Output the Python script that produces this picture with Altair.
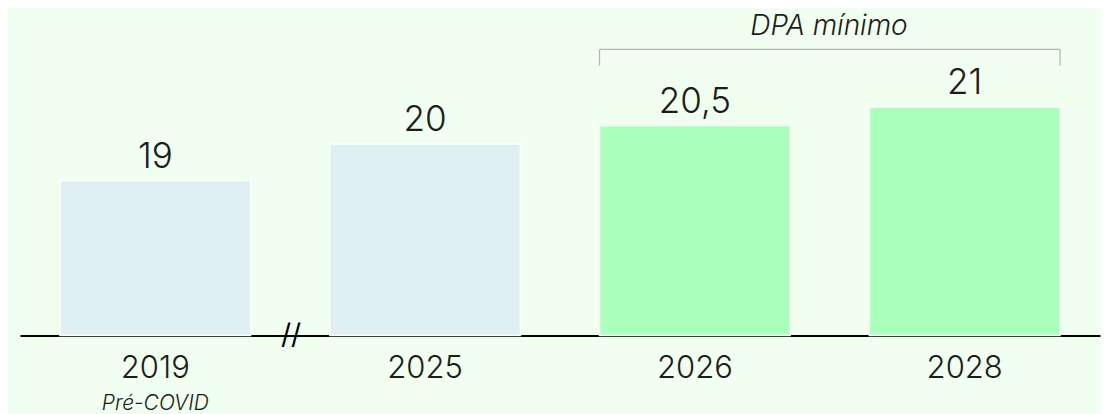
import altair as alt
import pandas as pd

years = ["2019", "2025", "2026", "2028"]
values = [19, 20, 20.5, 21]
value_labels = ["19", "20", "20,5", "21"]
groups = ["past", "past", "target", "target"]
sublabels = ["Pré-COVID", "", "", ""]
bracket_title = "DPA mínimo"
bracket_start = "2026"
bracket_end = "2028"

BG = "#f0fff0"
BLUE = "#dff0f3"
GREEN = "#aaffbb"
TXT = "#1c1c1c"
FONT = "Inter"
WEIGHT = 300

Y_MIN = 14.8
Y_MAX = 23.69
W = 1080
H = 327.5

df = pd.DataFrame({"year": years, "value": values, "label": value_labels,
                   "group": groups, "sub": sublabels, "base": [Y_MIN] * len(years)})
br = pd.DataFrame({"start": [bracket_start], "end": [bracket_end], "title": [bracket_title]})

xscale = alt.Scale(domain=years, paddingInner=0.293, paddingOuter=0.148)
yscale = alt.Scale(domain=[Y_MIN, Y_MAX], zero=False, nice=False)

x = alt.X("year:N", scale=xscale, sort=years,
          axis=alt.Axis(title=None, labelAngle=0, ticks=False, grid=False,
                        domainColor="#000000", domainWidth=2,
                        labelFont=FONT, labelFontSize=31, labelFontWeight=WEIGHT,
                        labelColor=TXT, labelPadding=18))

base = alt.Chart(df)

bars = base.mark_bar(stroke="white", strokeWidth=1.5).encode(
    x=x,
    y=alt.Y("value:Q", scale=yscale, axis=None),
    y2=alt.Y2("base:Q"),
    color=alt.Color("group:N", scale=alt.Scale(domain=["past", "target"], range=[BLUE, GREEN]),
                    legend=None),
)

vals = base.mark_text(baseline="alphabetic", dy=-13, fontSize=35, font=FONT,
                      fontWeight=WEIGHT, color=TXT).encode(
    x=alt.X("year:N", scale=xscale, sort=years),
    y=alt.Y("value:Q", scale=yscale),
    text="label:N",
)

subs = base.mark_text(baseline="alphabetic", fontSize=21, font=FONT, fontStyle="italic",
                      fontWeight=WEIGHT, color=TXT).encode(
    x=alt.X("year:N", scale=xscale, sort=years),
    y=alt.value(H + 74.5),
    text="sub:N",
)

brk = alt.Chart(br)
hline = brk.mark_rule(color="#b3b3b3", strokeWidth=1.2).encode(
    x=alt.X("start:N", scale=xscale, bandPosition=0),
    x2=alt.X2("end:N", bandPosition=1),
    y=alt.value(41.3),
)
ltick = brk.mark_rule(color="#b3b3b3", strokeWidth=1.2).encode(
    x=alt.X("start:N", scale=xscale, bandPosition=0),
    y=alt.value(41.3), y2=alt.value(57.5),
)
rtick = brk.mark_rule(color="#b3b3b3", strokeWidth=1.2).encode(
    x=alt.X("end:N", scale=xscale, bandPosition=1),
    y=alt.value(41.3), y2=alt.value(57.5),
)
title = brk.mark_text(baseline="alphabetic", fontSize=28, font=FONT, fontStyle="italic",
                      fontWeight=WEIGHT, color=TXT).encode(
    x=alt.value(809),
    y=alt.value(26.5),
    text="title:N",
)

brk_mark = alt.Chart(pd.DataFrame({"t": ["//"]})).mark_text(
    fontSize=28, font=FONT, color="#000000", baseline="middle", align="center"
).encode(x=alt.value(271), y=alt.value(H + 0.5), text="t:N")

chart = alt.layer(bars, vals, subs, hline, ltick, rtick, title, brk_mark).properties(
    width=W, height=H,
    background=BG,
    padding={"left": 12, "top": 0, "right": 1, "bottom": 78},
    autosize=alt.AutoSizeParams(type="none"),
).configure_view(stroke=None)

chart.save("out.html", embed_options={"renderer": "svg", "actions": False})
